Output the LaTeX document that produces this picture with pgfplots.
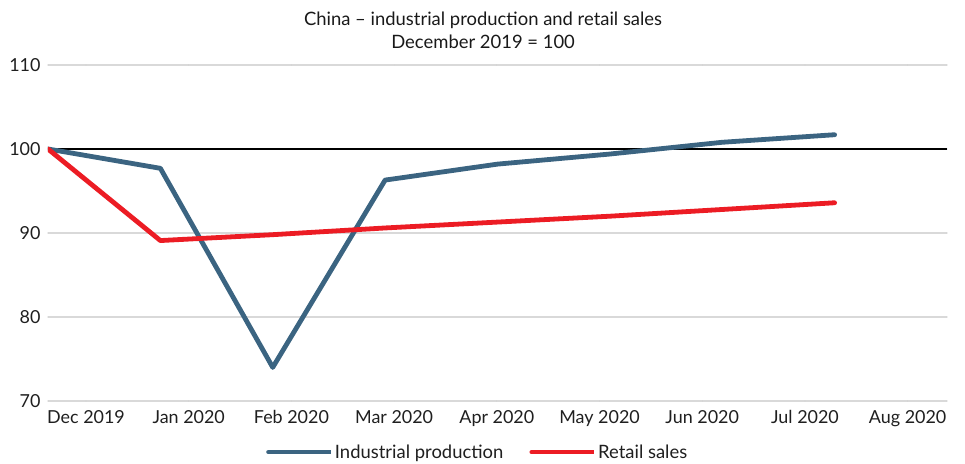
\documentclass[border=0pt]{standalone}
\usepackage{pgfplots}
\pgfplotsset{compat=1.18}
\usepackage{fontspec}
\setmainfont{Lato}
\definecolor{ipblue}{HTML}{3B6481}
\definecolor{rsred}{HTML}{EC1C24}
\definecolor{gridgray}{HTML}{D9D9D9}
\begin{document}
\begin{tikzpicture}
\begin{axis}[name=ax, at={(0,0)}, anchor=south west,
  scale only axis, width=899bp, height=336bp,
  xmin=0, xmax=8, ymin=70, ymax=110,
  ytick={70,80,90,100,110},
  xtick={0.338,1.252,2.166,3.080,3.994,4.908,5.822,6.736,7.650},
  xticklabels={Dec 2019,Jan 2020,Feb 2020,Mar 2020,Apr 2020,May 2020,Jun 2020,Jul 2020,Aug 2020},
  axis line style={draw=none}, major tick length=0pt,
  ymajorgrids, grid style={gridgray, line width=1.2bp},
  tick label style={font=\fontsize{18}{21}\selectfont, text=black!88},
  /pgf/number format/assume math mode=true,
  yticklabel style={anchor=east, xshift=-4bp},
  xticklabel style={anchor=north, yshift=-6bp},
  title={China -- industrial production and retail sales\\December 2019 = 100},
  title style={align=center, font=\fontsize{18.5}{23}\selectfont, anchor=south, at={(0.484,1)}, yshift=7bp, text=black!90},
  legend style={draw=none, at={(0.478,-0.152)}, anchor=center, legend columns=2,
    font=\fontsize{18.5}{21}\selectfont, text=black!88,
    /tikz/every even column/.append style={column sep=24bp}},
  legend image code/.code={\draw[#1, line cap=round] (0bp,0bp) -- (52bp,0bp); \path (0bp,0bp) -- (62bp,0bp);},
  line join=round, line cap=round,
]
\addplot[black, line width=1.8bp, forget plot, line cap=butt] coordinates {(0,100) (8,100)};
\addplot[ipblue, line width=4.8bp] coordinates {
(0,100) (1,97.7) (2,74.0) (3,96.3) (4,98.2) (5,99.4) (6,100.8) (7,101.7)};
\addlegendentry{Industrial production}
\addplot[rsred, line width=4.8bp] coordinates {
(0,100) (1,89.1) (2,89.8) (3,90.6) (4,91.3) (5,92.0) (6,92.8) (7,93.6)};
\addlegendentry{Retail sales}
\end{axis}
\pgfresetboundingbox
\path (ax.south west) ++(-48bp,-63bp) rectangle ++(965bp,464bp);
\end{tikzpicture}
\end{document}
